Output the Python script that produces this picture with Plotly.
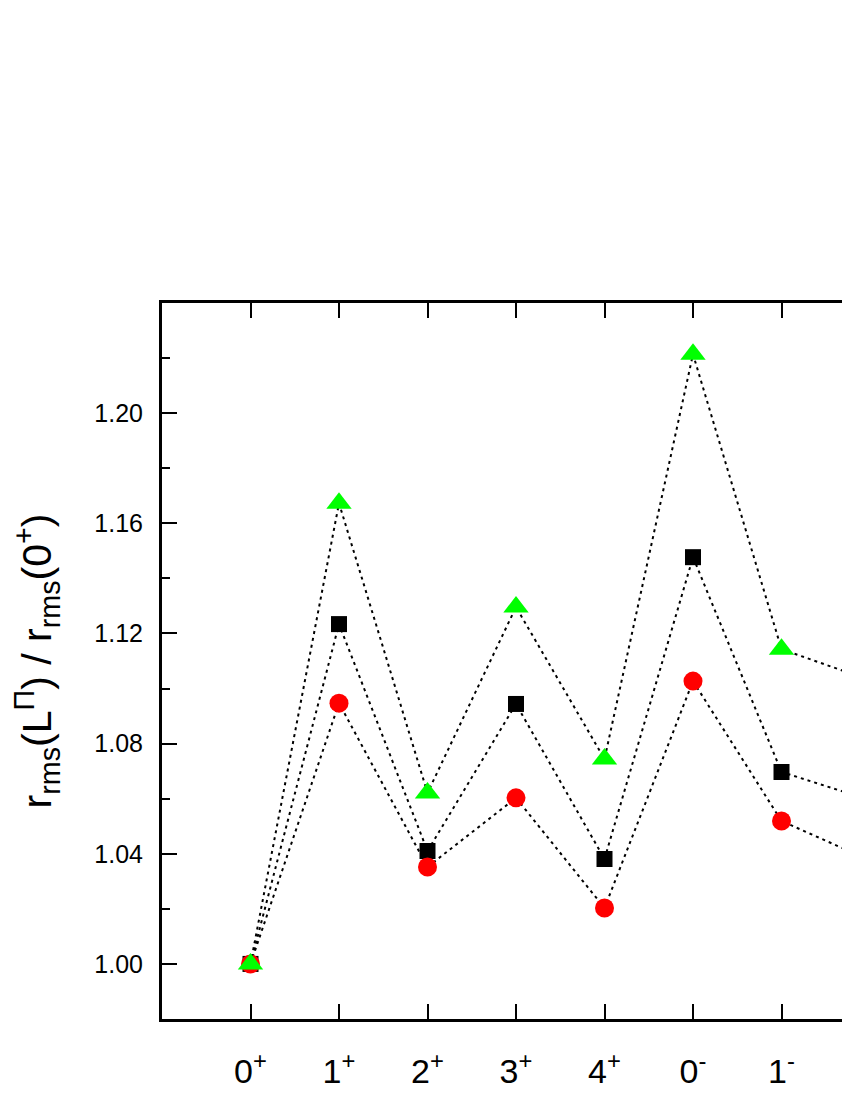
import plotly.graph_objects as go

categories = ["0<sup>+</sup>", "1<sup>+</sup>", "2<sup>+</sup>", "3<sup>+</sup>", "4<sup>+</sup>",
              "0<sup>-</sup>", "1<sup>-</sup>", "2<sup>-</sup>"]
black_sq = [1.000, 1.1234, 1.0410, 1.0944, 1.0381, 1.1477, 1.0697, 1.0595]
red_circ = [1.000, 1.0947, 1.0352, 1.0603, 1.0203, 1.1027, 1.0519, 1.0376]
green_tri = [1.000, 1.1673, 1.0621, 1.1296, 1.0744, 1.2214, 1.1143, 1.1030]
y_ticks = [1.00, 1.04, 1.08, 1.12, 1.16, 1.20]

xs = list(range(len(categories)))
line_style = dict(color="black", width=2, dash="3px,4px")

fig = go.Figure()
fig.add_trace(go.Scatter(x=xs, y=black_sq, mode="lines+markers", line=line_style,
                         marker=dict(symbol="square", size=16, color="black"),
                         cliponaxis=True, showlegend=False))
fig.add_trace(go.Scatter(x=xs, y=red_circ, mode="lines+markers", line=line_style,
                         marker=dict(symbol="circle", size=19, color="#ff0000"),
                         cliponaxis=True, showlegend=False))
fig.add_trace(go.Scatter(x=xs, y=green_tri, mode="lines+markers", line=line_style,
                         marker=dict(symbol="triangle-up", size=22, color="#00ff00"),
                         cliponaxis=True, showlegend=False))

fig.update_layout(
    width=842, height=1092,
    margin=dict(l=154, r=0, t=295, b=81),
    plot_bgcolor="white", paper_bgcolor="white",
    font=dict(family="Liberation Sans, Arial, sans-serif", color="black"),
)
fig.update_xaxes(
    range=[-1, 6.774], tickvals=xs, ticktext=categories,
    showline=True, linecolor="black", linewidth=3, mirror="ticks",
    ticks="inside", ticklen=15, tickwidth=2, tickcolor="black",
    showgrid=False, zeroline=False,
    tickfont=dict(size=34), ticklabelstandoff=20,
)
fig.update_yaxes(
    range=[0.98, 1.24], tickvals=y_ticks, ticktext=[f"{v:.2f}" for v in y_ticks],
    showline=True, linecolor="black", linewidth=3, mirror=False,
    ticks="inside", ticklen=15, tickwidth=2, tickcolor="black",
    minor=dict(tickvals=[0.98, 1.02, 1.06, 1.10, 1.14, 1.18, 1.22], ticks="inside",
               ticklen=8, tickwidth=2, tickcolor="black", showgrid=False),
    showgrid=False, zeroline=False,
    tickfont=dict(size=25), ticklabelstandoff=11,
    title=dict(text="r<sub>rms</sub>(L<sup>Π</sup>) / r<sub>rms</sub>(0<sup>+</sup>)",
               font=dict(size=41), standoff=30),
)

fig.write_html("out.html")
